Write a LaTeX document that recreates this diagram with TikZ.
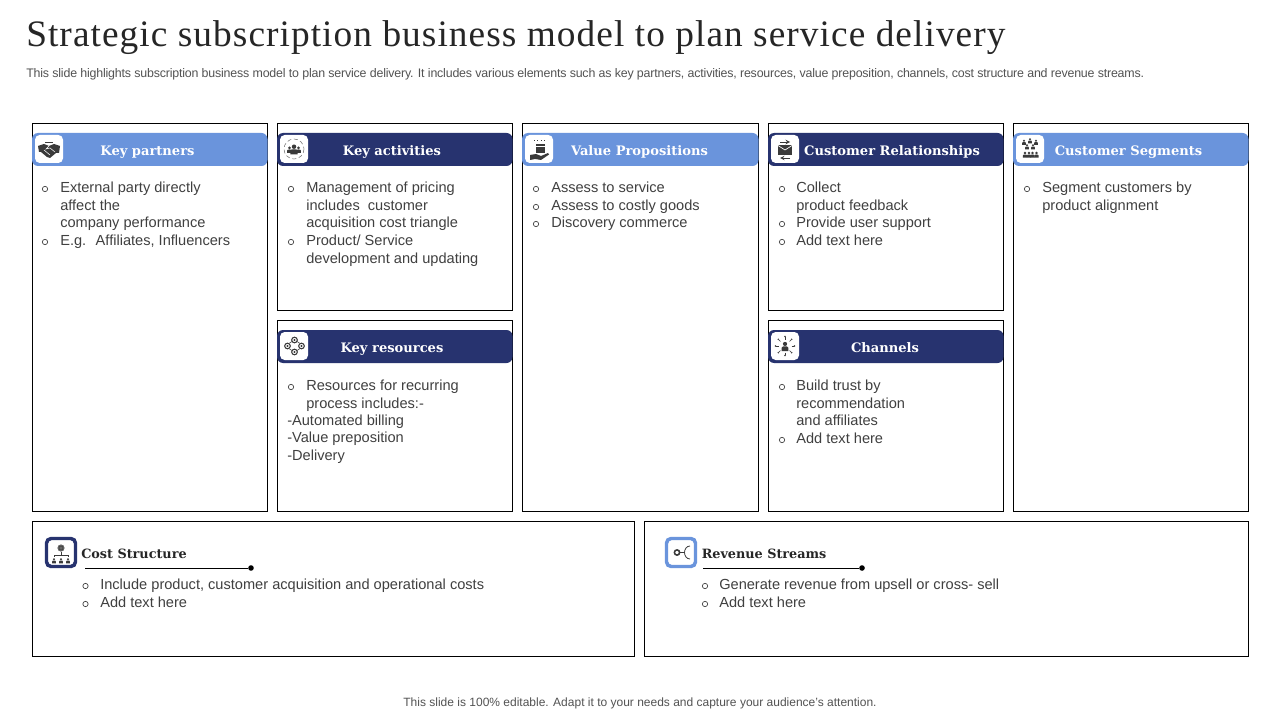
\documentclass[tikz,border=0pt]{standalone}
\usepackage{fontspec}
\setmainfont{Liberation Sans}
\newfontfamily\headserif{DejaVu Serif}
\newfontfamily\titleserif[LetterSpace=2.85]{Liberation Serif}
\definecolor{hlight}{HTML}{6A94DC}
\definecolor{hdark}{HTML}{27336F}
\definecolor{bodytxt}{HTML}{404040}
\definecolor{icongray}{HTML}{3A3A3A}
\newcommand{\bodyfont}{\fontsize{10.95}{13.3}\selectfont}
\tikzset{
  panelbox/.style={draw=black,line width=0.75pt,fill=white},
  headbox/.style={rounded corners=4.5pt},
  iconbox/.style={fill=white,rounded corners=3.5pt},
  headlabel/.style={text=white,font=\headserif\bfseries\fontsize{9.8}{12}\selectfont,inner sep=0pt,anchor=base},
  sublabel/.style={text=black!85,font=\headserif\bfseries\fontsize{9.6}{12}\selectfont,inner sep=0pt,anchor=base west},
  itemtext/.style={text=bodytxt,font=\bodyfont,align=left,inner sep=0pt,anchor=north west},
  bulletmark/.style={draw=bodytxt,line width=0.5pt,circle,minimum size=4pt,inner sep=0pt},
  pendot/.style={fill=black,circle,minimum size=4.2pt,inner sep=0pt},
}
\newcommand{\bx}[5]{\path[panelbox] (#2,#3+0.3) rectangle (#4-0.7,#5-0.7); \coordinate (#1) at (#2,#3);}
\newcommand{\itm}[5]{%
  \node[bulletmark] (#1b) at (#2,#3-3) {};
  \node[itemtext] (#1) at (#4,#3-13.33) {\rule{0pt}{10pt}#5};}
\newcommand{\person}[3]{% x y scale
  \fill[icongray] (#1,#2-2.2*#3) circle (1.5*#3);
  \fill[icongray] (#1-2.4*#3,#2+3*#3) -- (#1-2.4*#3,#2+0.6*#3) to[out=90,in=180] (#1,#2-0.5*#3) to[out=0,in=90] (#1+2.4*#3,#2+0.6*#3) -- (#1+2.4*#3,#2+3*#3) -- cycle;}
\begin{document}
\begin{tikzpicture}[x=0.75pt,y=-0.75pt]
\useasboundingbox (0,0) rectangle (1280,720);
\fill[white] (0,0) rectangle (1280,720);
% title
\node[anchor=base west,inner sep=0pt,text=black!85,font=\titleserif\fontsize{28}{32}\selectfont] (title) at (26,47) {Strategic subscription business model to plan service delivery};
\node[anchor=base west,inner sep=0pt,text=bodytxt!90,font=\fontsize{9.3}{11}\selectfont] (subtitle) at (26,77.5) {\addfontfeature{LetterSpace=-1.5}This slide highlights subscription business model to plan service delivery. It includes various elements such as key partners, activities, resources, value preposition, channels, cost structure and revenue streams.};
\node[anchor=base,inner sep=0pt,text=bodytxt!90,font=\fontsize{9}{11}\selectfont] (footer) at (640,706) {This slide is 100\% editable. Adapt it to your needs and capture your audience's attention.};
% panels
\bx{p1}{32}{123}{268}{512}
\bx{p2}{277}{123}{513}{311}
\bx{p3}{277}{320}{513}{512}
\bx{p4}{522}{123}{759}{512}
\bx{p5}{768}{123}{1004}{311}
\bx{p6}{768}{320}{1004}{512}
\bx{p7}{1013}{123}{1249}{512}
\bx{p8}{32}{521}{635}{657}
\bx{p9}{644}{521}{1249}{657}
% headers
\path[headbox,fill=hlight] (32,133) rectangle (267.5,166);
\path[headbox,fill=hdark] (277,133) rectangle (512.5,166);
\path[headbox,fill=hlight] (522,133) rectangle (758.5,166);
\path[headbox,fill=hdark] (768,133) rectangle (1003.5,166);
\path[headbox,fill=hlight] (1013,133) rectangle (1248.5,166);
\path[headbox,fill=hdark] (277,330) rectangle (512.5,363);
\path[headbox,fill=hdark] (768,330) rectangle (1003.5,363);
\node[headlabel] (h1) at (147.5,155.5) {Key partners};
\node[headlabel] (h2) at (392,155.5) {Key activities};
\node[headlabel] (h3) at (639.5,155.5) {Value Propositions};
\node[headlabel] (h4) at (892,155.5) {Customer Relationships};
\node[headlabel] (h5) at (1128.5,155.5) {Customer Segments};
\node[headlabel] (h6) at (392,352.5) {Key resources};
\node[headlabel] (h7) at (885,352.5) {Channels};
% icon tiles
\path[iconbox] (35,135) rectangle (63,163);
\path[iconbox] (280,135) rectangle (308,163);
\path[iconbox] (525,135) rectangle (553,163);
\path[iconbox] (771,135) rectangle (799,163);
\path[iconbox] (1016,135) rectangle (1044,163);
\path[iconbox] (280,332) rectangle (308,360);
\path[iconbox] (771,332) rectangle (799,360);
% handshake icon
\fill[icongray] (38,146) -- (44,144) -- (49,146) -- (54,144) -- (60,146) -- (59,153) -- (56,153) -- (50,158) -- (47,157) -- (41,152) -- (39,152) -- cycle;
\draw[white,line width=0.4pt] (44,150) -- (50,155) (49,146) -- (46,149) -- (50,148) -- (55,152);
\draw[icongray,line width=0.3pt] (45,142.5) -- (53,142.5);
% key activities icon
\person{294}{150}{1.5}
\person{289.5}{150}{1}
\person{298.5}{150}{1}
\draw[icongray!70,line width=0.4pt,dash pattern=on 3pt off 2pt] (294,149) circle (10);
% value propositions icon
\fill[icongray] (536,147) rectangle (545,153);
\fill[icongray] (536,144) rectangle (545,146);
\draw[icongray,line width=0.6pt,dotted] (534,140) -- (547,140);
\fill[icongray] (530,155) -- (536,154) -- (541,156) -- (548,153) -- (549,154.5) -- (541,160) -- (535,159) -- (530,160) -- cycle;
% customer relationship icon
\fill[icongray] (778,145) -- (792,145) -- (792,155) -- (778,155) -- cycle;
\draw[white,line width=0.5pt] (778,145.5) -- (785,150) -- (792,145.5);
\draw[icongray,line width=0.5pt,->,>=stealth] (780,142) -- (790,142);
\draw[icongray,line width=0.5pt,->,>=stealth] (790,158) -- (780,158);
% customer segments icon
\foreach \px/\py in {1024/142.5,1030/141,1036/142.5,1027/147,1033/147}{\person{\px}{\py}{0.8}}
\person{1025}{155}{0.9}\person{1029}{155}{0.9}\person{1032.5}{155}{0.9}\person{1036.5}{155}{0.9}
% key resources icon
\foreach \cx/\cy in {294.5/340,287.5/346,301.5/346,294.5/352}{
  \draw[icongray,line width=0.8pt,fill=white] (\cx,\cy) circle (2.8);
  \fill[icongray] (\cx,\cy) circle (1.1);}
\draw[icongray,line width=0.4pt] (289.5,343) -- (292,341.5) (299.5,343) -- (297,341.5) (289.5,349) -- (292,350.5) (299.5,349) -- (297,350.5);
% channels icon
\person{785}{347}{1.4}
\foreach \a in {0,45,...,315}{
  \draw[icongray,line width=0.3pt] (785,346)++(\a:6.5) -- ++(\a:2.5);
  \fill[icongray] (785,346)++(\a:9.5) circle (0.8);}
% items
\itm{a1}{45}{192}{60}{External party directly\\affect the\\company performance}
\itm{a2}{45}{245}{60}{E.g.~ Affiliates, Influencers}
\itm{b1}{291}{192}{306}{Management of pricing\\includes~ customer\\acquisition cost triangle}
\itm{b2}{291}{245}{306}{Product/ Service\\development and updating}
\itm{c1}{291}{390}{306}{Resources for recurring\\process includes:-}
\node[itemtext] (c2) at (287,411.5) {\rule{0pt}{10pt}-Automated billing\\-Value preposition\\-Delivery};
\itm{d1}{536}{192}{551}{Assess to service}
\itm{d2}{536}{210}{551}{Assess to costly goods}
\itm{d3}{536}{227}{551}{Discovery commerce}
\itm{e1}{782}{192}{796}{Collect\\product feedback}
\itm{e2}{782}{227}{796}{Provide user support}
\itm{e3}{782}{245}{796}{Add text here}
\itm{f1}{782}{390}{796}{Build trust by\\recommendation\\and affiliates}
\itm{f2}{782}{443}{796}{Add text here}
\itm{g1}{1027}{192}{1042}{Segment customers by\\product alignment}
% bottom headers
\path[fill=white,draw=hdark,line width=2.6pt,rounded corners=3.5pt] (46.5,538.5) rectangle (75.5,566.5);
\fill[gray!80!black] (61,548) circle (3.6);
\draw[icongray,line width=0.4pt] (61,548) circle (2);
\draw[icongray,line width=0.4pt] (61,552) -- (61,555) (54,557) -- (54,555) -- (68,555) -- (68,557);
\person{54}{561}{0.8}\person{61}{561}{0.8}\person{68}{561}{0.8}
\path[fill=white,draw=hlight,line width=2.6pt,rounded corners=3.5pt] (666.5,538.5) rectangle (695.5,566.5);
\draw[icongray,line width=1.2pt] (677,552.5) circle (2.6);
\draw[icongray,line width=0.6pt] (680,552.5) -- (684,552.5) (690,546) to[out=180,in=90] (684.5,552.5) to[out=-90,in=180] (690,559);
\node[sublabel] (k1) at (81,558.5) {Cost Structure};
\node[sublabel] (k2) at (701.5,558.5) {Revenue Streams};
\coordinate (r1s) at (85,568);
\node[pendot] (r1e) at (251,568) {};
\draw[black,line width=0.7pt] (r1s) -- (r1e);
\coordinate (r2s) at (703,568);
\node[pendot] (r2e) at (862,568) {};
\draw[black,line width=0.7pt] (r2s) -- (r2e);
\itm{i1}{85.5}{589}{100}{Include product, customer acquisition and operational costs}
\itm{i2}{85.5}{607}{100}{Add text here}
\itm{j1}{705}{589}{719}{Generate revenue from upsell or cross- sell}
\itm{j2}{705}{607}{719}{Add text here}
\end{tikzpicture}
\end{document}
